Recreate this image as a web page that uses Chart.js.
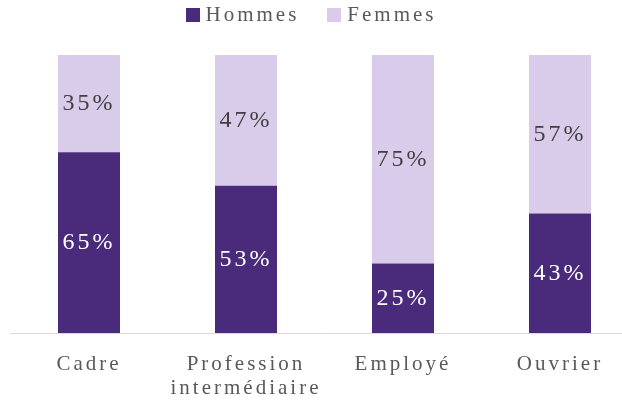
<!DOCTYPE html>
<html>
<head>
<meta charset="utf-8">
<script src="https://cdn.jsdelivr.net/npm/chart.js@4.4.0/dist/chart.umd.min.js"></script>
<style>
  html, body { margin: 0; padding: 0; background: #fff; overflow: hidden; }
  #wrap { position: relative; width: 640px; height: 402px; }
  #legend {
    position: absolute; left: 0; top: 8px; width: 622px; height: 14px;
    display: flex; justify-content: center; align-items: center;
    font: 21px "Liberation Serif", serif; color: #595959; letter-spacing: 3px;
  }
  #legend .item { display: flex; align-items: center; }
  #legend .item + .item { margin-left: 28px; }
  #legend .box { width: 14px; height: 14px; margin-right: 6px; }
  #legend .txt { line-height: 14px; position: relative; top: -1px; }
</style>
</head>
<body>
<div id="wrap">
  <canvas id="chart"></canvas>
  <div id="legend"></div>
</div>
<script>
// Data
const categories = [["Cadre"], ["Profession", "intermédiaire"], ["Employé"], ["Ouvrier"]];
const seriesNames = ["Hommes", "Femmes"];
const hommes = [65, 53, 25, 43];
const femmes = [35, 47, 75, 57];

const colors = ["#4a2a7a", "#d9ccea"];
const labelColors = ["#ffffff", "#404040"];
const serif = '"Liberation Serif", "Times New Roman", serif';

// Letter spacing for all canvas text (the canvas resets it on resize)
const spacing = {
  id: "spacing",
  beforeLayout(chart) { chart.ctx.letterSpacing = "3px"; },
  beforeDraw(chart) { chart.ctx.letterSpacing = "3px"; }
};

// Percent labels in the middle of each segment
const barLabels = {
  id: "barLabels",
  afterDatasetsDraw(chart) {
    const ctx = chart.ctx;
    chart.data.datasets.forEach((ds, i) => {
      chart.getDatasetMeta(i).data.forEach((bar, j) => {
        const p = bar.getProps(["x", "y", "base"], true);
        ctx.save();
        ctx.letterSpacing = "3px";
        ctx.font = "24px " + serif;
        ctx.fillStyle = labelColors[i];
        ctx.textAlign = "center";
        ctx.textBaseline = "middle";
        ctx.fillText(ds.data[j] + "%", p.x, (p.y + p.base) / 2);
        ctx.restore();
      });
    });
  }
};

const chart = new Chart(document.getElementById("chart"), {
  type: "bar",
  data: {
    labels: categories,
    datasets: [
      { label: seriesNames[0], data: hommes, backgroundColor: colors[0] },
      { label: seriesNames[1], data: femmes, backgroundColor: colors[1] }
    ]
  },
  options: {
    responsive: true,
    maintainAspectRatio: false,
    animation: false,
    barPercentage: 0.395,
    categoryPercentage: 1,
    layout: { padding: { left: 10.5, right: 1.5, top: 55, bottom: 0 } },
    plugins: {
      legend: { display: false },
      tooltip: { enabled: false }
    },
    scales: {
      x: {
        stacked: true,
        grid: { display: false },
        border: { color: "#d9d9d9", width: 1 },
        ticks: {
          color: "#595959",
          padding: 11,
          font: { family: serif, size: 21, lineHeight: 1.15 },
          maxRotation: 0
        },
        afterFit(scale) { scale.height = 69; }
      },
      y: {
        stacked: true,
        display: false,
        min: 0,
        max: 100
      }
    }
  },
  plugins: [spacing, barLabels]
});

// HTML legend
const legend = document.getElementById("legend");
seriesNames.forEach((name, i) => {
  const item = document.createElement("span");
  item.className = "item";
  item.innerHTML = `<span class="box" style="background:${colors[i]}"></span><span class="txt">${name}</span>`;
  legend.appendChild(item);
});
</script>
</body>
</html>
